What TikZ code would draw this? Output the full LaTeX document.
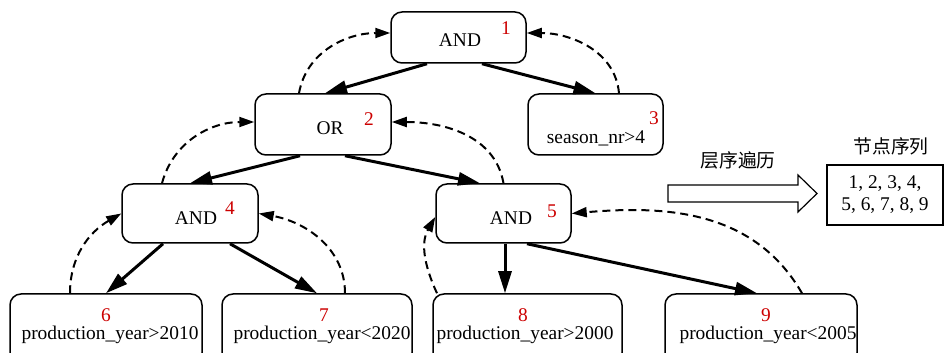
\documentclass[tikz,border=0pt]{standalone}
\usepackage{fontspec}
\setmainfont{Liberation Serif}
\newfontfamily\cjk{Noto Sans CJK SC}
\usetikzlibrary{arrows.meta,calc}
\definecolor{numred}{RGB}{204,0,0}

\begin{document}
\begin{tikzpicture}[x=0.5pt,y=0.5pt,
        font=\fontsize{9.7}{11}\selectfont,
        cond/.style={draw,line width=0.75pt,rounded corners=5.5pt,inner sep=0pt},
        num/.style={text=numred,inner sep=0pt},
        txt/.style={inner sep=0pt},
        edge/.style={line width=1.5pt,-{Triangle[length=11pt,width=6.5pt]}},
        back/.style={line width=1pt,dash pattern=on 4pt off 2.5pt,-{Triangle[length=7.5pt,width=5pt]}}]
    \useasboundingbox (0,0) rectangle (944,353);
    % tree nodes
    \node[cond,minimum width=67.5pt,minimum height=25.5pt] (n1) at (458.5,315.5) {};
    \node[cond,minimum width=68pt,minimum height=30.5pt]   (n2) at (323,228.5) {};
    \node[cond,minimum width=67.5pt,minimum height=30.5pt] (n3) at (595.5,228.5) {};
    \node[cond,minimum width=68pt,minimum height=29.5pt]   (n4) at (190,139.5) {};
    \node[cond,minimum width=67.5pt,minimum height=29.5pt] (n5) at (503.5,139.5) {};
    \node[cond,minimum width=96pt,minimum height=35pt]     (n6) at (106,24) {};
    \node[cond,minimum width=95pt,minimum height=35pt]     (n7) at (317,24) {};
    \node[cond,minimum width=94.5pt,minimum height=35pt]   (n8) at (527.5,24) {};
    \node[cond,minimum width=96pt,minimum height=35pt]     (n9) at (761,24) {};
    % texts and numbers
    \node[txt] (t1) at (460,313) {AND};  \node[num] (k1) at (506,325) {1};
    \node[txt] (t2) at (330,225) {OR};   \node[num] (k2) at (369,234) {2};
    \node[txt] (t3) at (596,215) {season\_nr>4}; \node[num] (k3) at (654,235) {3};
    \node[txt] (t4) at (196,135) {AND};  \node[num] (k4) at (230,145) {4};
    \node[txt] (t5) at (511,135) {AND};  \node[num] (k5) at (552,142) {5};
    \node[txt] (t6) at (110,18) {production\_year>2010}; \node[num] (k6) at (106,38) {6};
    \node[txt] (t7) at (322,18) {production\_year<2020}; \node[num] (k7) at (324,38) {7};
    \node[txt] (t8) at (525,18) {production\_year>2000}; \node[num] (k8) at (523,38) {8};
    \node[txt] (t9) at (768,18) {production\_year<2005}; \node[num] (k9) at (766,38) {9};
    % parent to child
    \draw[edge] ($(n1.south)+(-31.5,0)$) -- ($(n2.north)+(2,0)$);
    \draw[edge] ($(n1.south)+(23.5,0)$) -- (n3.north);
    \draw[edge] ($(n2.south)+(-23,0)$) -- (n4.north);
    \draw[edge] ($(n2.south)+(22,0)$) -- ($(n5.north)+(-23.5,0)$);
    \draw[edge] ($(n4.south)+(-27,0)$) -- (n6.north);
    \draw[edge] ($(n4.south)+(40,0)$) -- (n7.north);
    \draw[edge] ($(n5.south)+(1.5,0)$) -- ($(n8.north)+(-22.5,0)$);
    \draw[edge] ($(n5.south)+(23.5,0)$) -- ($(n9.north)+(-4,0)$);
    % child back to parent
    \draw[back] ($(n2.north)+(-24,0)$) to[out=80,in=180] ($(n1.west)+(0,4.5)$);
    \draw[back] ($(n3.north)+(23.5,0)$) to[out=95,in=0] ($(n1.east)+(0,4.5)$);
    \draw[back] ($(n4.north)+(-28,0)$) to[out=75,in=180] ($(n2.west)+(0,2.5)$);
    \draw[back] (n5.north) to[out=100,in=0] ($(n2.east)+(0,2.5)$);
    \draw[back] ($(n6.north)+(-36,0)$) to[out=90,in=210] (n4.west);
    \draw[back] ($(n7.north)+(28,0)$) to[out=90,in=-10] (n4.east);
    \draw[back] ($(n8.north)+(-90.5,0)$) to[out=115,in=240] ($(n5.west)+(0,-3.5)$);
    \draw[back] ($(n9.north)+(41,0)$) to[out=120,in=5] (n5.east);
    % traversal
    \draw[line width=0.6pt] (668,168) -- (798,168) -- (798,178) -- (817,159.5)
        -- (798,141) -- (798,151) -- (668,151) -- cycle;
    \node[txt,font=\cjk\fontsize{9.4}{11}\selectfont] (lvl) at (738,193) {层序遍历};
    \node[draw,line width=0.75pt,minimum width=58pt,minimum height=30pt,inner sep=0pt,align=center]
        (seq) at (885,158) {1, 2, 3, 4,\\5, 6, 7, 8, 9};
    \node[txt,font=\cjk\fontsize{9.4}{11}\selectfont] (seqt) at (891,207) {节点序列};
\end{tikzpicture}
\end{document}
